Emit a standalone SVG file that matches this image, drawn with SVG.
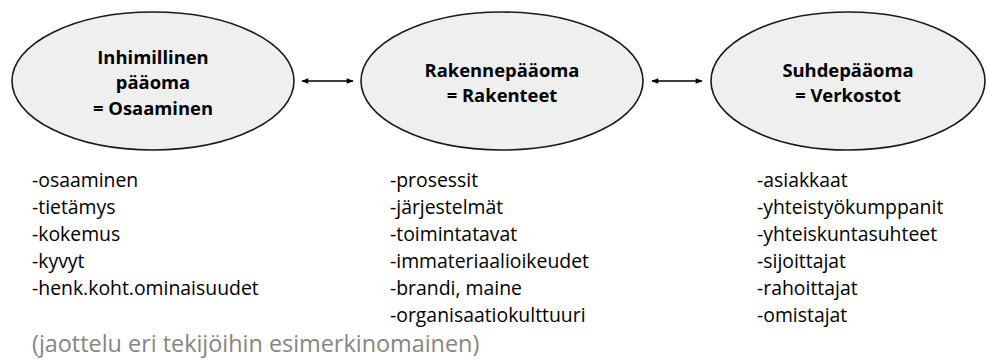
<svg xmlns="http://www.w3.org/2000/svg" width="987" height="361" viewBox="0 0 987 361">
<defs>
<marker id="ah" viewBox="0 0 10 10" refX="9" refY="5" markerWidth="8" markerHeight="7" orient="auto-start-reverse" markerUnits="userSpaceOnUse">
<path d="M0,1 L10,5 L0,9 Z" fill="#000"/>
</marker>
</defs>
<style>
.node ellipse{fill:#efefef;stroke:#1a1a1a;stroke-width:1.6}
.title{font-family:"Open Sans","Liberation Sans",sans-serif;font-weight:bold;font-size:18.4px;fill:#000;text-anchor:middle}
.list{font-family:"Open Sans","Liberation Sans",sans-serif;font-size:19.4px;fill:#000}
.note{font-family:"Open Sans","Liberation Sans",sans-serif;font-size:23.4px;fill:#858585}
.conn line{stroke:#000;stroke-width:1.5;marker-start:url(#ah);marker-end:url(#ah)}
</style>
<rect width="987" height="361" fill="#fff"/>
<g id="n1" class="node">
<ellipse cx="153" cy="81" rx="141" ry="69"/>
<text class="title" x="153" y="64">Inhimillinen</text>
<text class="title" x="153" y="89">pääoma</text>
<text class="title" x="153" y="115">= Osaaminen</text>
</g>
<g id="n2" class="node">
<ellipse cx="502" cy="81" rx="141" ry="69"/>
<text class="title" x="502" y="77">Rakennepääoma</text>
<text class="title" x="502" y="102">= Rakenteet</text>
</g>
<g id="n3" class="node">
<ellipse cx="848" cy="81" rx="137" ry="69"/>
<text class="title" x="848" y="77">Suhdepääoma</text>
<text class="title" x="848" y="102">= Verkostot</text>
</g>
<g id="connectors" class="conn">
<line x1="302" y1="81" x2="353" y2="81"/>
<line x1="652" y1="81" x2="702" y2="81"/>
</g>
<g id="list1">
<text class="list" x="32" y="187">-osaaminen</text>
<text class="list" x="32" y="214">-tietämys</text>
<text class="list" x="32" y="241">-kokemus</text>
<text class="list" x="32" y="268">-kyvyt</text>
<text class="list" x="32" y="295">-henk.koht.ominaisuudet</text>
</g>
<g id="list2">
<text class="list" x="390" y="187">-prosessit</text>
<text class="list" x="390" y="214">-järjestelmät</text>
<text class="list" x="390" y="241">-toimintatavat</text>
<text class="list" x="390" y="268">-immateriaalioikeudet</text>
<text class="list" x="390" y="295">-brandi, maine</text>
<text class="list" x="390" y="322">-organisaatiokulttuuri</text>
</g>
<g id="list3">
<text class="list" x="757" y="187">-asiakkaat</text>
<text class="list" x="757" y="214">-yhteistyökumppanit</text>
<text class="list" x="757" y="241">-yhteiskuntasuhteet</text>
<text class="list" x="757" y="268">-sijoittajat</text>
<text class="list" x="757" y="295">-rahoittajat</text>
<text class="list" x="757" y="322">-omistajat</text>
</g>
<text class="note" x="32" y="352">(jaottelu eri tekijöihin esimerkinomainen)</text>
</svg>
